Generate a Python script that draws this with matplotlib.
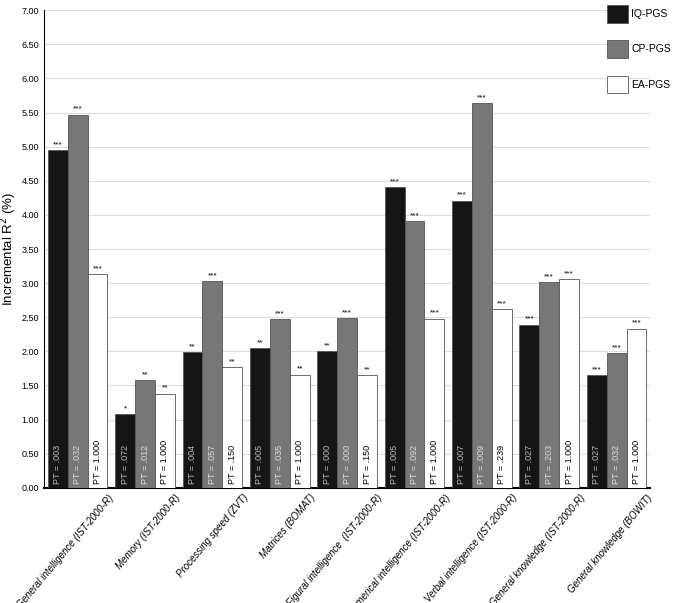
import numpy as np
import matplotlib.pyplot as plt
from matplotlib import font_manager
from matplotlib.transforms import ScaledTranslation

categories = ['General intelligence (IST-2000-R)', 'Memory (IST-2000-R)', 'Processing speed (ZVT)',
              'Matrices (BOMAT)', 'Figural intelligence  (IST-2000-R)', 'Numerical intelligence (IST-2000-R)',
              'Verbal intelligence (IST-2000-R)', 'General knowledge (IST-2000-R)', 'General knowledge (BOWIT)']
iq = [4.95, 1.08, 1.99, 2.05, 2.00, 4.41, 4.21, 2.39, 1.65]
cp = [5.47, 1.58, 3.03, 2.47, 2.49, 3.91, 5.64, 3.01, 1.97]
ea = [3.13, 1.38, 1.77, 1.66, 1.65, 2.48, 2.62, 3.06, 2.33]
iq_sig = ['***', '*', '**', '**', '**', '***', '***', '***', '***']
cp_sig = ['***', '**', '***', '***', '***', '***', '***', '***', '***']
ea_sig = ['***', '**', '**', '**', '**', '***', '***', '***', '***']
iq_pt = ['.003', '.072', '.004', '.005', '.000', '.005', '.007', '.027', '.027']
cp_pt = ['.032', '.012', '.057', '.035', '.000', '.092', '.009', '.203', '.032']
ea_pt = ['1.000', '1.000', '.150', '1.000', '.150', '1.000', '.239', '1.000', '1.000']

plt.rcParams['font.family'] = 'Liberation Sans'

fig = plt.figure(figsize=(6.76, 6.03), dpi=100)
ax = fig.add_axes([0.065, 0.191, 0.897, 0.792])

x = np.arange(len(categories))
w = 0.295
series = [(iq, iq_sig, iq_pt, '#151515', '#bbbbbb', 'IQ-PGS'),
          (cp, cp_sig, cp_pt, '#777777', '#dddddd', 'CP-PGS'),
          (ea, ea_sig, ea_pt, 'white', 'black', 'EA-PGS')]
handles = []
for k, (vals, sig, pt, col, tcol, lab) in enumerate(series):
    pos = x - w + k * w
    b = ax.bar(pos, vals, w, color=col, edgecolor='#555555', linewidth=0.6, label=lab, zorder=3)
    handles.append(b)
    for p, v, s, t in zip(pos, vals, sig, pt):
        ax.text(p, v + 0.03, s, ha='center', va='bottom', fontsize=6, zorder=4)
        ax.text(p, 0.05, f'PT = {t}', rotation=90, ha='center', va='bottom',
                fontsize=6.5, color=tcol, zorder=4)

ax.set_xlim(-0.5, len(categories) - 0.5)
ax.set_ylim(0, 7)
ax.set_yticks(np.arange(0, 7.01, 0.5))
ax.set_yticklabels([f'{v:.2f}' for v in np.arange(0, 7.01, 0.5)], fontsize=6.5)
ax.yaxis.grid(True, color='#dddddd', linewidth=0.8, zorder=0)
ax.tick_params(axis='both', length=0)
ax.set_xticks(x)
ax.set_xticklabels(categories, rotation=50, ha='right', rotation_mode='anchor',
                   fontsize=7, style='italic')
shift = ScaledTranslation(0.3, 0, fig.dpi_scale_trans)
for lbl in ax.get_xticklabels():
    lbl.set_transform(lbl.get_transform() + shift)
for s in ['top', 'right']:
    ax.spines[s].set_visible(False)
ax.spines['bottom'].set_linewidth(1.5)
ax.set_ylabel('Incremental R$^2$ (%)', fontsize=9.5, labelpad=2)

fig.legend(handles=handles, loc='upper right', bbox_to_anchor=(1.0, 1.0), frameon=False,
           fontsize=7.5, handlelength=2.0, handleheight=2.2, labelspacing=1.7,
           handletextpad=0.3, borderaxespad=0.1)

fig.savefig('out.png', dpi=100)
